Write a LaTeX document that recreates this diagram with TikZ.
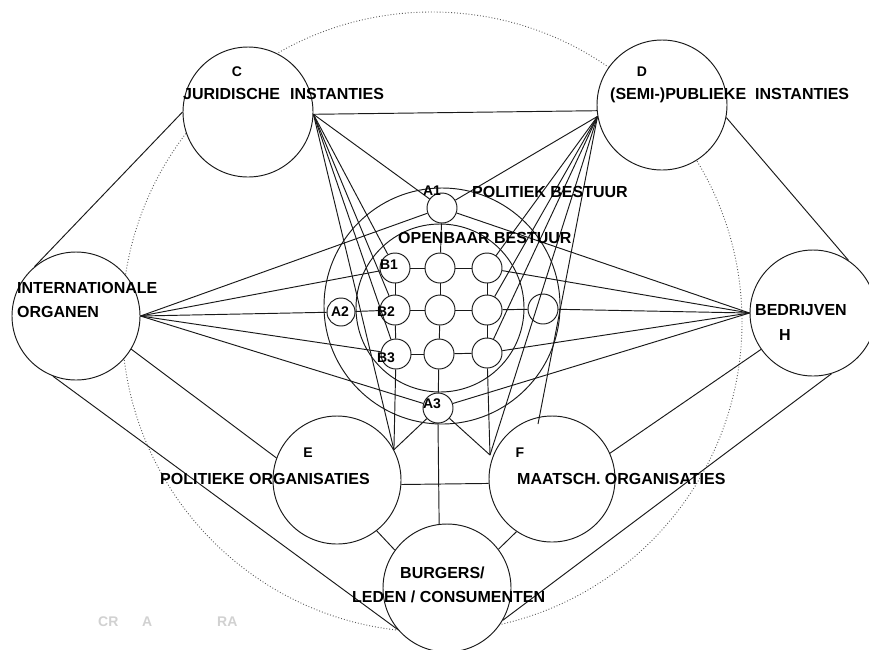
\documentclass[tikz,border=0pt]{standalone}
\usepackage{fontspec}
\setmainfont{Liberation Sans}
\begin{document}
\begin{tikzpicture}[x=1pt,y=-1pt,
  ln/.style={line width=0.95pt, draw=black!90},
  circ/.style={circle, draw=black!90, line width=0.95pt, inner sep=0pt},
  bigc/.style={circ, fill=white},
  smc/.style={circ, minimum size=30pt},
  lab/.style={font=\fontsize{16}{18}\selectfont\bfseries, inner sep=0pt, anchor=west},
  slab/.style={font=\fontsize{14}{16}\selectfont\bfseries, inner sep=0pt},
  faint/.style={font=\fontsize{14}{16}\selectfont\bfseries, inner sep=0pt, anchor=west, text=black!18}
]
\useasboundingbox (0,0) rectangle (869,649);
% outer dotted circle
\draw[dotted, line width=0.9pt, draw=black!65] (432,322) circle[radius=310pt];
% big rings
\node[circ, minimum size=236pt] (PB) at (442,306) {};
\node[circ, minimum size=168pt] (OB) at (440,308) {};
% outer actors
\node[bigc, minimum size=130pt] (C) at (248,112) {};
\node[bigc, minimum size=130pt] (D) at (662,105) {};
\node[bigc, minimum size=128pt] (IO) at (76,316) {};
\node[bigc, minimum size=126pt] (H) at (813,313) {};
\node[bigc, minimum size=128pt] (E) at (337,480) {};
\node[bigc, minimum size=126pt] (F) at (552,479) {};
\node[bigc, minimum size=128pt] (Bu) at (447,588) {};
% small circles
\node[smc] (A1) at (442,208) {};
\node[smc, minimum size=28pt] (A2) at (341,312) {};
\node[smc] (A3) at (438,408) {};
\node[smc] (B1) at (395,268) {};
\node[smc] (M1) at (440,268) {};
\node[smc] (R1) at (487,268) {};
\node[smc] (B2) at (395,310) {};
\node[smc] (M2) at (440,310) {};
\node[smc] (R2) at (487,310) {};
\node[smc] (X) at (543,309) {};
\node[smc] (B3) at (396,354) {};
\node[smc] (M3) at (439,354) {};
\node[smc] (R3) at (487,353) {};
% connection points
\coordinate (Cp) at (C.-2);
\coordinate (Dp) at (D.190);
\coordinate (Ep) at (E.28);
\coordinate (Fp) at (490,455);
\coordinate (Ft) at (538,424);
% C - D
\draw[ln] (Cp) -- (D.185);
% fan from C
\draw[ln] (Cp) -- (A1);
\draw[ln] (Cp) -- (B1);
\draw[ln] (Cp) -- (B2);
\draw[ln] (Cp) -- (B3);
\draw[ln] (Cp) -- (Ep);
% fan from D
\draw[ln] (Dp) -- (A1);
\draw[ln] (Dp) -- (R1);
\draw[ln] (Dp) -- (R2);
\draw[ln] (Dp) -- (R3);
\draw[ln] (Dp) -- (Fp);
\draw[ln] (Dp) -- (Ft);
% fan from IO
\draw[ln] (IO.east) -- (A1);
\draw[ln] (IO.east) -- (B1);
\draw[ln] (IO.east) -- (A2);
\draw[ln] (IO.east) -- (B3);
\draw[ln] (IO.east) -- (A3);
% fan from H
\draw[ln] (H.west) -- (A1);
\draw[ln] (H.west) -- (R1);
\draw[ln] (H.west) -- (X);
\draw[ln] (H.west) -- (R3);
\draw[ln] (H.west) -- (A3);
% grid
\draw[ln] (B1) -- (M1);
\draw[ln] (M1) -- (R1);
\draw[ln] (B2) -- (M2);
\draw[ln] (M2) -- (R2);
\draw[ln] (R2) -- (X);
\draw[ln] (B3) -- (M3);
\draw[ln] (M3) -- (R3);
\draw[ln] (B1) -- (B2);
\draw[ln] (B2) -- (B3);
\draw[ln] (M1) -- (M2);
\draw[ln] (M2) -- (M3);
\draw[ln] (R1) -- (R2);
\draw[ln] (R2) -- (R3);
\draw[ln] (A1) -- (M1);
\draw[ln] (M3) -- (A3);
\draw[ln] (A2) -- (B2);
% lower links
\draw[ln] (B3) -- (Ep);
\draw[ln] (R3) -- (Fp);
\draw[ln] (Ep) -- (A3);
\draw[ln] (Fp) -- (A3);
\draw[ln] (A3.south) -- (Bu.97);
\draw[ln] (E.-4) -- (F.184);
% outer links
\draw[ln] (C.180) -- (IO.130);
\draw[ln] (D.-11) -- (H.56);
\draw[ln] (IO.-31) -- (E.160);
\draw[ln] (IO.-111) -- (Bu.-140);
\draw[ln] (H.-145) -- (F.24);
\draw[ln] (H.-73) -- (Bu.-30);
\draw[ln] (E.-52) -- (Bu.144);
\draw[ln] (F.-124) -- (Bu.37);
% labels
\node[slab] (tC) at (237,72) {C};
\node[lab] (tCn) at (183,94) {JURIDISCHE\hspace{10pt}INSTANTIES};
\node[slab] (tD) at (642,72) {D};
\node[lab] (tDn) at (610,95) {(SEMI-)PUBLIEKE\hspace{9pt}INSTANTIES};
\node[slab] (tA1) at (432,191) {A1};
\node[lab] (tPB) at (472,192) {POLITIEK BESTUUR};
\node[lab] (tOB) at (398,238) {OPENBAAR BESTUUR};
\node[slab] (tB1) at (389,265) {B1};
\node[slab] (tA2) at (340,312) {A2};
\node[slab] (tB2) at (386,312) {B2};
\node[slab] (tB3) at (386,358) {B3};
\node[slab] (tA3) at (432,404) {A3};
\node[slab] (tE) at (308,453) {E};
\node[lab] (tEn) at (160,479) {POLITIEKE ORGANISATIES};
\node[slab] (tF) at (520,453) {F};
\node[lab] (tFn) at (517,479) {MAATSCH. ORGANISATIES};
\node[lab] (tIO1) at (17,288) {INTERNATIONALE};
\node[lab] (tIO2) at (17,312) {ORGANEN};
\node[lab] (tH1) at (755,310) {BEDRIJVEN};
\node[lab, anchor=center] (tH2) at (785,335) {H};
\node[lab] (tBu1) at (400,573) {BURGERS/};
\node[lab] (tBu2) at (352,597) {LEDEN / CONSUMENTEN};
\node[faint] (f1) at (98,622) {CR};
\node[faint] (f2) at (142,622) {A};
\node[faint] (f3) at (217,622) {RA};
\end{tikzpicture}
\end{document}
